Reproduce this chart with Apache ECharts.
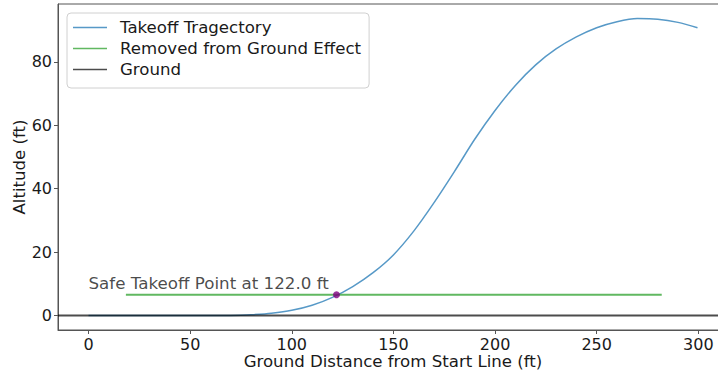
<!DOCTYPE html>
<html>
<head>
<meta charset="utf-8">
<script src="https://cdn.jsdelivr.net/npm/echarts@6/dist/echarts.min.js"></script>
<style>
  html, body { margin: 0; padding: 0; background: #fff; }
  #chart { width: 718px; height: 372px; }
</style>
</head>
<body>
<div id="chart"></div>
<script>
// takeoff trajectory
var distX = [0, 10, 20, 30, 40, 50, 60, 70, 75, 80, 90, 100, 110, 120, 130, 140, 150, 160, 170, 180, 190, 200, 210, 220, 230, 240, 250, 260, 270, 280, 290, 299.6];
var altY  = [0, 0, 0, 0, 0, 0, 0, 0, 0.05, 0.2, 0.7, 1.6, 3.2, 5.7, 9.1, 13.5, 19.1, 26.6, 35.6, 45.4, 55.6, 64.7, 72.6, 79.1, 84.1, 87.9, 90.8, 92.7, 93.7, 93.5, 92.5, 90.8];

var groundEffectX = [18.4, 282];
var groundEffectY = 6.5;
var safePoint = [122.0, 6.5];
var groundX = [-15, 314.6];

var xTicks = [0, 50, 100, 150, 200, 250, 300];
var yTicks = [0, 20, 40, 60, 80];

var noteText = 'Safe Takeoff Point at 122.0 ft';

var chart = echarts.init(document.getElementById('chart'), null, { renderer: 'svg' });
var font = 'DejaVu Sans';
var ink = '#1a1a1a', spine = '#555';
var lineIcon = 'path://M0,0 L34,0 L34,1.6 L0,1.6 Z';

var trajData = distX.map(function(x, i) { return [x, altY[i]]; });

chart.setOption({
  animation: false,
  textStyle: { fontFamily: font },
  grid: {
    left: 58, top: 4, right: -10, bottom: 42, outerBoundsMode: 'none', containLabel: false,
    show: true, borderColor: spine, borderWidth: 1, backgroundColor: 'transparent'
  },
  legend: {
    orient: 'vertical', left: 67, top: 13,
    padding: [6, 8, 10, 6], itemGap: 4, itemWidth: 34, itemHeight: 14,
    icon: lineIcon, symbolKeepAspect: true,
    backgroundColor: 'rgba(255,255,255,0.8)', borderColor: '#d0d0d0', borderWidth: 1, borderRadius: 4,
    textStyle: { fontFamily: font, fontSize: 16.6, color: ink, padding: [0, 0, 0, 8] },
    data: ['Takeoff Tragectory', 'Removed from Ground Effect', 'Ground']
  },
  xAxis: {
    type: 'value', min: -15, max: 314.6,
    name: 'Ground Distance from Start Line (ft)', nameLocation: 'middle', nameGap: 23, nameMoveOverlap: false,
    nameTextStyle: { fontFamily: font, fontSize: 16.6, color: ink },
    splitLine: { show: false },
    axisLine: { show: true, onZero: false, lineStyle: { color: spine, width: 1 } },
    axisTick: { show: true, length: 4, lineStyle: { color: spine }, customValues: xTicks },
    axisLabel: { fontFamily: font, fontSize: 16, color: ink, margin: 6, customValues: xTicks }
  },
  yAxis: {
    type: 'value', min: -4.6, max: 98.3,
    name: 'Altitude (ft)', nameLocation: 'middle', nameGap: 30, nameRotate: 90, nameMoveOverlap: false,
    nameTextStyle: { fontFamily: font, fontSize: 16.6, color: ink },
    splitLine: { show: false },
    axisLine: { show: true, onZero: false, lineStyle: { color: spine, width: 1 } },
    axisTick: { show: true, length: 4, lineStyle: { color: spine }, customValues: yTicks },
    axisLabel: { fontFamily: font, fontSize: 16, color: ink, margin: 6, customValues: yTicks }
  },
  series: [
    {
      name: 'Takeoff Tragectory', type: 'line', data: trajData,
      symbol: 'none', smooth: 0.3,
      lineStyle: { color: '#1f77b4', width: 1.5, opacity: 0.75 },
      itemStyle: { color: '#1f77b4', opacity: 0.75 },
      z: 2
    },
    {
      name: 'Removed from Ground Effect', type: 'line',
      data: groundEffectX.map(function(x) { return [x, groundEffectY]; }),
      symbol: 'none',
      lineStyle: { color: '#2ca02c', width: 2, opacity: 0.75 },
      itemStyle: { color: '#2ca02c', opacity: 0.75 },
      z: 3
    },
    {
      name: 'Ground', type: 'line',
      data: groundX.map(function(x) { return [x, 0]; }),
      symbol: 'none',
      lineStyle: { color: '#000', width: 2, opacity: 0.7 },
      itemStyle: { color: '#000', opacity: 0.7 },
      z: 4
    },
    {
      type: 'scatter', data: [safePoint], symbol: 'circle', symbolSize: 7,
      itemStyle: { color: '#800080' }, z: 5
    },
    {
      type: 'scatter', data: [[0, 10.3]], symbolSize: 0, silent: true,
      label: {
        show: true, position: 'right', distance: 0, formatter: noteText,
        fontFamily: font, fontSize: 16.7, color: ink, align: 'left', verticalAlign: 'middle'
      },
      z: 6
    }
  ]
});
</script>
</body>
</html>
